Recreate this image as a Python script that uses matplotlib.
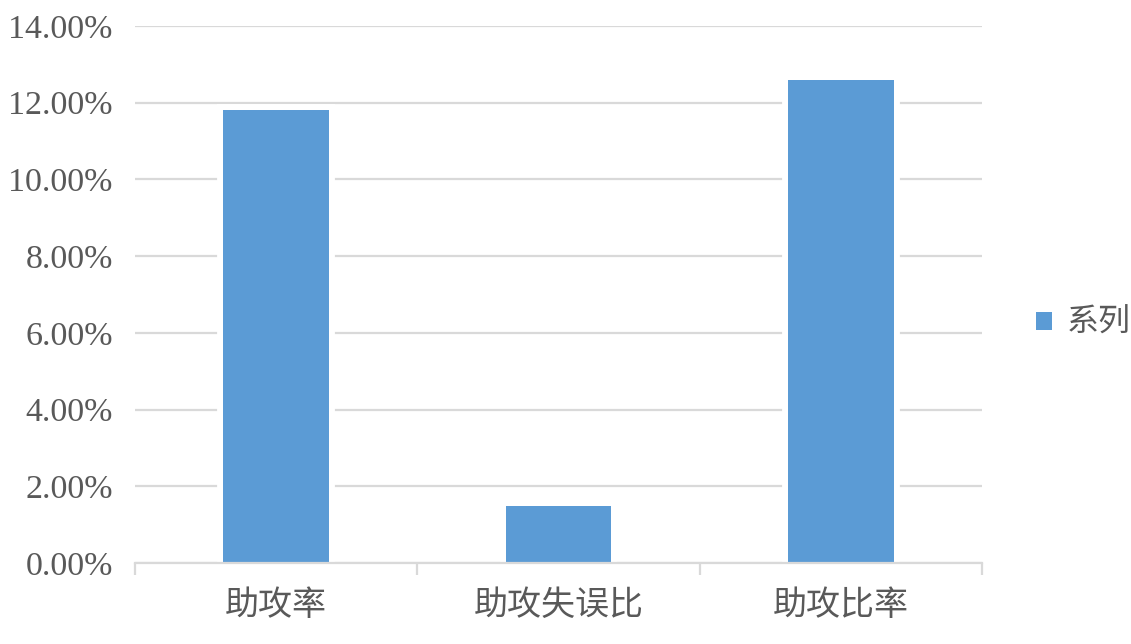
import matplotlib

matplotlib.use("Agg")

import matplotlib.pyplot as plt  # noqa: E402
from matplotlib.ticker import FuncFormatter, MultipleLocator  # noqa: E402

# data
categories = ["助攻率", "助攻失误比", "助攻比率"]
values = [11.82, 1.49, 12.60]  # percent
series_name = "系列1"

BAR_COLOR = "#5b9bd5"
GRID_COLOR = "#d9d9d9"
TEXT_COLOR = "#595959"
CJK = ["Noto Sans CJK SC", "DejaVu Sans"]

fig = plt.figure(figsize=(11.31, 6.44), dpi=100)
ax = fig.add_axes([135 / 1131, 81 / 644, 847 / 1131, 537 / 644])

x = list(range(len(categories)))
width = 0.375

# white halo behind bars so gridlines stop short of them
ax.bar(x, values, width=width, color="white", edgecolor="white",
       linewidth=8.5, zorder=2)
ax.bar(x, values, width=width, color=BAR_COLOR, linewidth=0, zorder=3,
       label=series_name)

ax.set_xlim(-0.5, len(categories) - 0.5)
ax.set_ylim(0, 14)
ax.yaxis.set_major_locator(MultipleLocator(2))
ax.yaxis.set_major_formatter(FuncFormatter(lambda v, _: f"{v:.2f}%"))
ax.grid(axis="y", color=GRID_COLOR, linewidth=1.6, zorder=1)
ax.set_axisbelow(True)

for side in ("top", "right", "left"):
    ax.spines[side].set_visible(False)
ax.spines["bottom"].set_color(GRID_COLOR)
ax.spines["bottom"].set_linewidth(1.6)
ax.spines["bottom"].set_zorder(4)

ax.set_xticks(x)
ax.set_xticklabels(categories, family=CJK, fontsize=24.5, color=TEXT_COLOR)
ax.set_xticks([i - 0.5 for i in range(len(categories) + 1)], minor=True)
ax.tick_params(axis="x", which="major", length=0, pad=18)
ax.tick_params(axis="x", which="minor", length=8.5, width=1.6,
               color=GRID_COLOR, direction="out")
ax.tick_params(axis="y", length=0, pad=16, labelsize=24.5, labelcolor=TEXT_COLOR)
for lab in ax.get_yticklabels():
    lab.set_family("Liberation Serif")

leg = ax.legend(loc="center left", bbox_to_anchor=(1036 / 1131, 321 / 644),
                bbox_transform=fig.transFigure, frameon=False,
                prop={"family": CJK, "size": 23}, handlelength=0.5,
                handleheight=0.5, handletextpad=0.45, borderpad=0,
                borderaxespad=0)
for t in leg.get_texts():
    t.set_color(TEXT_COLOR)

fig.savefig("out.png", dpi=100, facecolor="white")
plt.close(fig)
